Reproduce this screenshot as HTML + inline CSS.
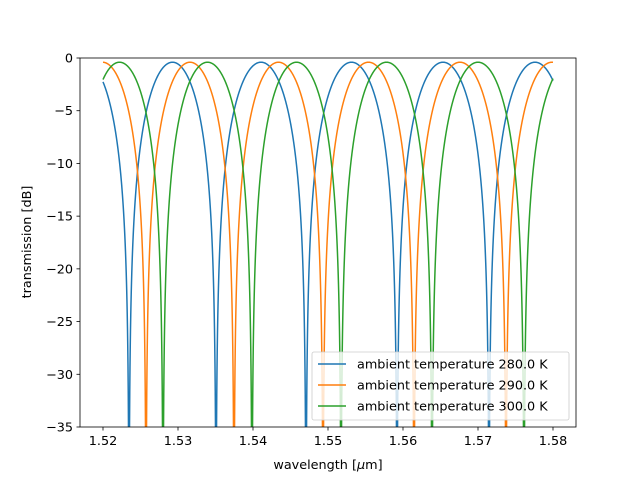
<!DOCTYPE html>
<html><head><meta charset="utf-8"><style>
body{margin:0;background:#fff;}
svg{display:block;font-family:"DejaVu Sans","Liberation Sans",sans-serif;}
</style></head><body>
<svg id="s" width="640" height="480" xmlns="http://www.w3.org/2000/svg">
<defs><clipPath id="c"><rect x="80" y="58" width="496" height="369"/></clipPath></defs>
<rect width="640" height="480" fill="#fff"/>
<g id="lines" clip-path="url(#c)" fill="none" stroke-width="1.5"></g>
<rect x="80" y="58" width="496" height="369" fill="none" stroke="#000" stroke-width="0.8"/>
<g id="ticks" font-size="12.8" fill="#000"></g>
<text x="328" y="469" font-size="12.8" text-anchor="middle">wavelength [<tspan font-style="italic">μ</tspan>m]</text>
<text transform="translate(31,242) rotate(-90)" font-size="12.8" text-anchor="middle">transmission [dB]</text>
<g>
<rect x="312" y="352" width="257" height="68" rx="2" fill="#fff" fill-opacity="0.8" stroke="#ccc" stroke-width="0.8"/>
<line x1="318" y1="364" x2="346" y2="364" stroke="#1f77b4" stroke-width="1.5"/>
<text x="357" y="368.5" font-size="12.8">ambient temperature 280.0 K</text>
<line x1="318" y1="385" x2="346" y2="385" stroke="#ff7f0e" stroke-width="1.5"/>
<text x="357" y="389.5" font-size="12.8">ambient temperature 290.0 K</text>
<line x1="318" y1="406" x2="346" y2="406" stroke="#2ca02c" stroke-width="1.5"/>
<text x="357" y="410.5" font-size="12.8">ambient temperature 300.0 K</text>
</g>
</svg>
<script>
var NS="http://www.w3.org/2000/svg";
function el(n,a,p){var e=document.createElementNS(NS,n);for(var k in a)e.setAttribute(k,a[k]);p.appendChild(e);return e;}
var t=document.getElementById("ticks");
var xl=["1.52","1.53","1.54","1.55","1.56","1.57","1.58"];
for(var i=0;i<7;i++){var x=103+75*i;el("line",{x1:x,y1:427,x2:x,y2:430.5,stroke:"#000","stroke-width":0.8},t);
var tx=el("text",{x:x,y:445,"text-anchor":"middle"},t);tx.textContent=xl[i];}
for(var j=0;j<8;j++){var y=58+j*369/7;el("line",{x1:76.5,y1:y,x2:80,y2:y,stroke:"#000","stroke-width":0.8},t);
var ty=el("text",{x:73,y:y+4.5,"text-anchor":"end"},t);ty.textContent=j==0?"0":"\u2212"+(5*j);}
var A=Math.pow(10,-0.04);
var series=[["#1f77b4",[42,129,216,306,397,489,581]],["#ff7f0e",[59,146,234,323,414,506,598]],["#2ca02c",[76,163,252,341,432,524,616]]];
var g=document.getElementById("lines");
series.forEach(function(s){var d=s[1],pts=[];
for(var x=103;x<=553.001;x+=0.25){var k=0;while(k<d.length-2&&x>d[k+1])k++;
var ph=Math.PI*(x-d[k])/(d[k+1]-d[k]);var T=A*Math.pow(Math.sin(ph),2);
var db=10*Math.log10(Math.max(T,1e-6));if(db<-40)db=-40;
pts.push(x.toFixed(2)+","+(58-db*369/35).toFixed(2));}
el("polyline",{points:pts.join(" "),stroke:s[0]},g);});
</script>
</body></html>
